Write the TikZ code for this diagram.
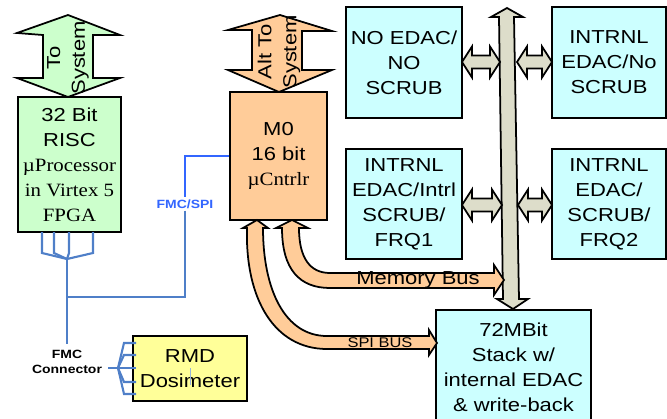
\documentclass[tikz,border=0pt]{standalone}
\usepackage{fontspec}
\setmainfont{Liberation Sans}[FakeStretch=1.17]
\newfontfamily\timesfont{Liberation Serif}[FakeStretch=1.11]
\usepackage{tikz}

\definecolor{riscgreen}{HTML}{CCFFCC}
\definecolor{mcuorange}{HTML}{FFCC99}
\definecolor{memcyan}{HTML}{CCFFFF}
\definecolor{rmdyellow}{HTML}{FFFF99}
\definecolor{busgray}{HTML}{DDDDCA}
\definecolor{spiblue}{HTML}{3366FF}
\definecolor{wireblue}{HTML}{4F7FC8}

\begin{document}
\begin{tikzpicture}[x=0.02cm, y=-0.02cm,
    boxtext/.style={font=\fontsize{10.7}{14.2}\selectfont, align=center},
    blockbox/.style={draw=black, line width=1pt, inner sep=0pt, boxtext},
    blockarrow/.style={draw=black, line width=1pt, line join=miter},
    wire/.style={wireblue, line width=1.2pt},
    smalllabel/.style={font=\bfseries\fontsize{6.8}{8.5}\selectfont, align=center}]

    \useasboundingbox (0,0) rectangle (667,419);
    \clip (0,0) rectangle (667,419);

    % up/down arrows to the system
    \draw[blockarrow, fill=riscgreen] (68,15) -- (120,35) -- (93,35) -- (93,78) -- (120,78) -- (68,97)
        -- (17,78) -- (43,78) -- (43,35) -- (17,33) -- cycle;
    \node[boxtext, rotate=90] (tosys) at (68,58) {To\\System};
    \draw[blockarrow, fill=mcuorange] (280,15) -- (332,31) -- (302,31) -- (302,70) -- (332,70) -- (279,92)
        -- (228,70) -- (252,70) -- (252,30) -- (228,30) -- cycle;
    \node[boxtext, rotate=90] (altsys) at (279,52) {Alt To\\System};

    % processors
    \node[blockbox, fill=riscgreen, minimum width=2.06cm, minimum height=2.7cm] (fpga) at (69.5,164.5)
        {32 Bit\\RISC\\{\timesfont µProcessor}\\{\timesfont in Virtex 5}\\{\timesfont FPGA}};
    \node[blockbox, fill=mcuorange, minimum width=1.94cm, minimum height=2.56cm] (mzero) at (278.5,156)
        {M0\\16 bit\\{\timesfont µCntrlr}};

    % memories
    \node[blockbox, fill=memcyan, minimum width=2.32cm, minimum height=2.22cm] (noedac) at (404,62.5)
        {NO EDAC/\\NO\\SCRUB};
    \node[blockbox, fill=memcyan, minimum width=2.28cm, minimum height=2.22cm] (intnoscrub) at (609,62.5)
        {INTRNL\\EDAC/No\\SCRUB};
    \node[blockbox, fill=memcyan, minimum width=2.32cm, minimum height=2.2cm] (frqone) at (404,204)
        {INTRNL\\EDAC/Intrl\\SCRUB/\\FRQ1};
    \node[blockbox, fill=memcyan, minimum width=2.28cm, minimum height=2.2cm] (frqtwo) at (609,204)
        {INTRNL\\EDAC/\\SCRUB/\\FRQ2};
    \node[blockbox, fill=memcyan, minimum width=3.1cm, minimum height=2.3cm] (stack) at (513.5,367.5)
        {72MBit\\Stack w/\\internal EDAC\\\& write-back};
    \node[blockbox, fill=rmdyellow, minimum width=2.28cm, minimum height=1.3cm] (rmd) at (190,368.5)
        {RMD\\Dosimeter};
    \draw[wireblue!60, line width=0.5pt] (190,368) -- (190,385);

    % memory bus
    \draw[blockarrow, fill=busgray] (507,8) -- (523,17) -- (514,17) -- (519,299) -- (528,299) -- (513,309)
        -- (497,299) -- (503,299) -- (499,17) -- (491,17) -- cycle;
    \foreach \xa/\xb/\y in {462/500/62, 517/552/62, 462/502/205, 518/552/205}
        \draw[blockarrow, fill=busgray] (\xa,\y) -- (\xa+10,\y-15.5) -- (\xa+10,\y-6.5) -- (\xb-10,\y-6.5)
            -- (\xb-10,\y-15.5) -- (\xb,\y) -- (\xb-10,\y+15.5) -- (\xb-10,\y+6.5) -- (\xa+10,\y+6.5)
            -- (\xa+10,\y+15.5) -- cycle;

    \draw[blockarrow, fill=mcuorange] (504,280) -- (494,265) -- (494,273) -- (330,273)
        .. controls (310,273) and (299,258) .. (299,228) -- (308,228) -- (292,220) -- (276,228) -- (282,228)
        .. controls (282,270) and (300,288) .. (330,288) -- (494,288) -- (494,295) -- cycle;
    \node[boxtext] (membus) at (418,280) {Memory Bus};

    \draw[blockarrow, fill=mcuorange] (437,343) -- (429,330) -- (429,336) -- (327,336)
        .. controls (285,336) and (263,290) .. (263,228) -- (268,228) -- (257,220) -- (243,228) -- (247,228)
        .. controls (245,300) and (275,349) .. (327,349) -- (429,349) -- (429,355) -- cycle;
    \node[font=\fontsize{8}{9}\selectfont] (spibus) at (380,343) {SPI BUS};

    % FMC wiring
    \node[smalllabel, text=spiblue, fill=white, inner sep=1pt] (fmcspi) at (185,204) {FMC/SPI};
    \node[smalllabel] (fmcconn) at (67,362) {FMC\\Connector};
    \draw[spiblue, line width=1.2pt] (mzero.west) -| (fmcspi.north);
    \draw[wire] (fmcspi.south) -- (185,297) -- (67,297);
    \foreach \x in {42,54,69,93}
        \draw[wire] (\x,232) -- (\x,253) -- (67,259);
    \draw[wire] (67,259) -- (fmcconn.north);
    \draw[wire] (fmcconn.east |- 0,368) -- (118,368);
    \foreach \y in {343,355,368,382,394}
        \draw[wire] (118,368) -- (124,\y) -- (136,\y);
\end{tikzpicture}
\end{document}
